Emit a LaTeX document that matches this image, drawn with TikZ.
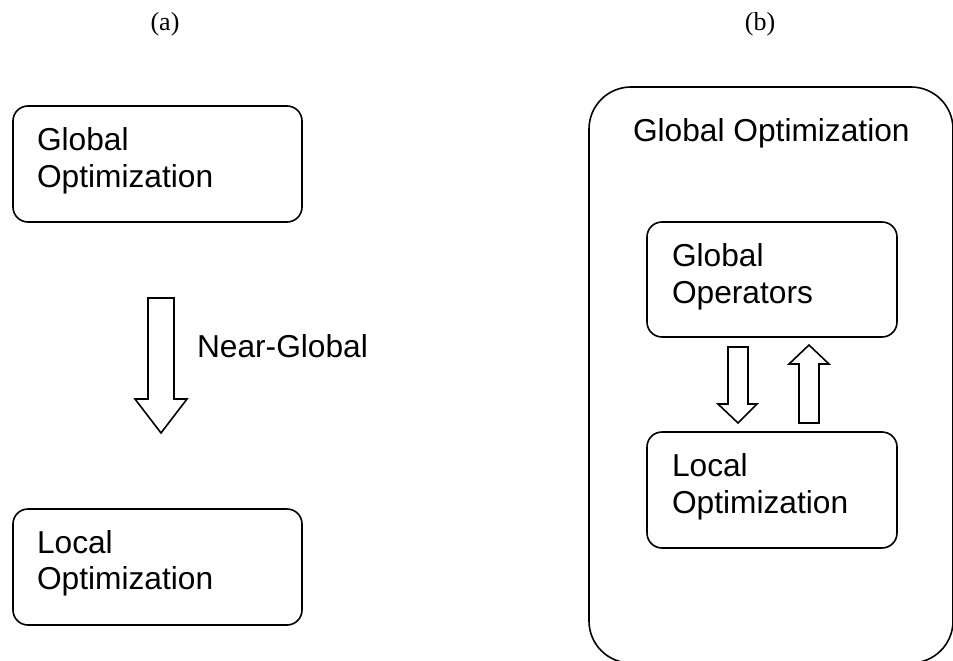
\documentclass[tikz,border=0pt]{standalone}
\usepackage{fontspec}
\setmainfont{Liberation Sans}
\newfontfamily\serifface{Liberation Serif}
\begin{document}
\begin{tikzpicture}[x=1pt,y=-1pt,
  box/.style={draw,line width=1.6pt,rounded corners=15pt,inner sep=0pt,outer sep=0pt},
  bigbox/.style={draw,line width=1.6pt,rounded corners=42pt,inner sep=0pt,outer sep=0pt},
  txt/.style={anchor=base west,inner sep=0pt,outer sep=0pt,font=\fontsize{31.7}{36}\selectfont},
  panel/.style={anchor=base,inner sep=0pt,font=\serifface\fontsize{26}{30}\selectfont},
  blockarrow/.style={draw,line width=1.6pt,fill=white,line join=miter}]
\useasboundingbox (0,0) rectangle (953,661);
\clip (0,0) rectangle (953,661);
\fill[white] (0,0) rectangle (953,661);

% panel labels
\node[panel] (la) at (165,31) {(a)};
\node[panel] (lb) at (760,31) {(b)};

% panel (a)
\node[box,minimum width=289pt,minimum height=116pt] (ga) at (157.5,164) {};
\node[txt] (ga1) at (37,150) {Global};
\node[txt] (ga2) at (37,187) {Optimization};

\node[box,minimum width=289pt,minimum height=116pt] (lo) at (157.5,567) {};
\node[txt] (lo1) at (37,553) {Local};
\node[txt] (lo2) at (37,589) {Optimization};

\draw[blockarrow] (148,298) -- (174,298) -- (174,399) -- (187,399) -- (161,433)
  -- (135,399) -- (148,399) -- cycle;
\node[txt] (ng) at (197,357) {Near-Global};

% panel (b)
\node[bigbox,minimum width=364pt,minimum height=576pt] (big) at (771,375) {};
\node[txt] (bigt) at (633,141) {Global Optimization};

\node[box,minimum width=250pt,minimum height=115pt] (gop) at (772,279.5) {};
\node[txt] (gop1) at (672,266) {Global};
\node[txt] (gop2) at (672,303) {Operators};

\node[box,minimum width=250pt,minimum height=116pt] (lop) at (772,490) {};
\node[txt] (lop1) at (672,476) {Local};
\node[txt] (lop2) at (672,513) {Optimization};

\draw[blockarrow] (728,347) -- (748,347) -- (748,404) -- (757,404) -- (738,423)
  -- (718,404) -- (728,404) -- cycle;
\draw[blockarrow] (799,423) -- (819,423) -- (819,364) -- (829,364) -- (809,345)
  -- (789,364) -- (799,364) -- cycle;
\end{tikzpicture}
\end{document}
